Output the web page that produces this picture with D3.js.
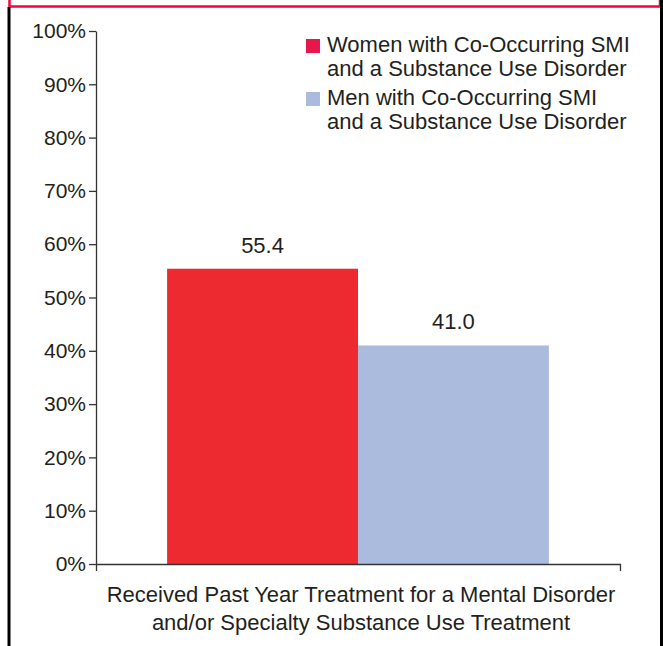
<!DOCTYPE html>
<html>
<head>
<meta charset="utf-8">
<script src="https://d3js.org/d3.v7.min.js"></script>
<style>
  body { margin: 0; background: #fff; }
  text { font-family: "Liberation Sans", Arial, sans-serif; fill: #231f20; }
</style>
</head>
<body>
<svg id="chart" width="663" height="646"></svg>
<script>
// chart data
const categories = ["Received Past Year Treatment for a Mental Disorder\nand/or Specialty Substance Use Treatment"]
const seriesNames = [
  "Women with Co-Occurring SMI\nand a Substance Use Disorder",
  "Men with Co-Occurring SMI\nand a Substance Use Disorder"
]
const values = [55.4, 41.0]
const yTicks = [0, 10, 20, 30, 40, 50, 60, 70, 80, 90, 100]

const barColors = ["#ec2a2f", "#aabbdd"]
const legendColors = ["#e8174b", "#aabbdd"]

const svg = d3.select("#chart")

// frame: red top edge, black sides
svg.append("path")
  .attr("d", "M9.5,0 V6.5 H660 V0")
  .attr("fill", "none")
  .attr("stroke", "#f0053f")
  .attr("stroke-width", 2.5)
svg.append("line").attr("x1", 9).attr("x2", 9).attr("y1", 7).attr("y2", 646)
  .attr("stroke", "#000").attr("stroke-width", 3)
svg.append("line").attr("x1", 661.5).attr("x2", 661.5).attr("y1", 0).attr("y2", 646)
  .attr("stroke", "#000").attr("stroke-width", 3)

const margin = { left: 96, right: 43, top: 31, bottom: 82 }
const width = 663 - margin.left - margin.right
const height = 646 - margin.top - margin.bottom

const g = svg.append("g").attr("transform", `translate(${margin.left},${margin.top})`)

const y = d3.scaleLinear().domain([0, 100]).range([height, 0])
const x0 = d3.scaleBand().domain(categories).range([0, width]).padding(0.157)
const x1 = d3.scaleBand().domain(seriesNames).range([0, x0.bandwidth()])

// bars
const group = g.selectAll(".group")
  .data(categories)
  .enter()
  .append("g")
  .attr("transform", (d) => `translate(${x0(d)},0)`)

group.selectAll("rect")
  .data(seriesNames.map((s, i) => ({ name: s, value: values[i], i })))
  .enter()
  .append("rect")
  .attr("x", (d) => x1(d.name))
  .attr("y", (d) => y(d.value))
  .attr("width", x1.bandwidth())
  .attr("height", (d) => height - y(d.value))
  .attr("fill", (d) => barColors[d.i])

// value labels
group.selectAll(".val")
  .data(seriesNames.map((s, i) => ({ name: s, value: values[i] })))
  .enter()
  .append("text")
  .attr("class", "val")
  .attr("x", (d) => x1(d.name) + x1.bandwidth() / 2)
  .attr("y", (d) => y(d.value) - 16)
  .attr("text-anchor", "middle")
  .style("font-size", "22px")
  .text((d) => d.value.toFixed(1))

// y axis
const yAxis = g.append("g")
  .call(d3.axisLeft(y).tickValues(yTicks).tickFormat((d) => d + "%").tickSize(7).tickSizeOuter(0).tickPadding(3))
yAxis.selectAll("path, line").attr("stroke", "#333").attr("stroke-width", 1.3)
yAxis.selectAll("text")
  .style("font-size", "21px")
  .attr("fill", "#231f20")

// x axis, only the end ticks
const xAxis = g.append("g")
  .attr("transform", `translate(0,${height})`)
  .call(d3.axisBottom(x0).tickValues([]).tickSizeOuter(7))
xAxis.selectAll("path").attr("stroke", "#333").attr("stroke-width", 1.3)

// category label
categories.forEach((c) => {
  const lines = c.split("\n")
  lines.forEach((line, k) => {
    g.append("text")
      .attr("x", x0(c) + x0.bandwidth() / 2 + 3)
      .attr("y", height + 38 + k * 28)
      .attr("text-anchor", "middle")
      .style("font-size", "22px")
      .text(line)
  })
})

// legend
const legend = svg.append("g").attr("transform", "translate(306,39)")
seriesNames.forEach((s, i) => {
  const item = legend.append("g").attr("transform", `translate(0,${i * 53})`)
  item.append("rect")
    .attr("width", 14)
    .attr("height", 14)
    .attr("fill", legendColors[i])
  s.split("\n").forEach((line, k) => {
    item.append("text")
      .attr("x", 21)
      .attr("y", 13 + k * 24)
      .style("font-size", "22px")
      .text(line)
  })
})
</script>
</body>
</html>
